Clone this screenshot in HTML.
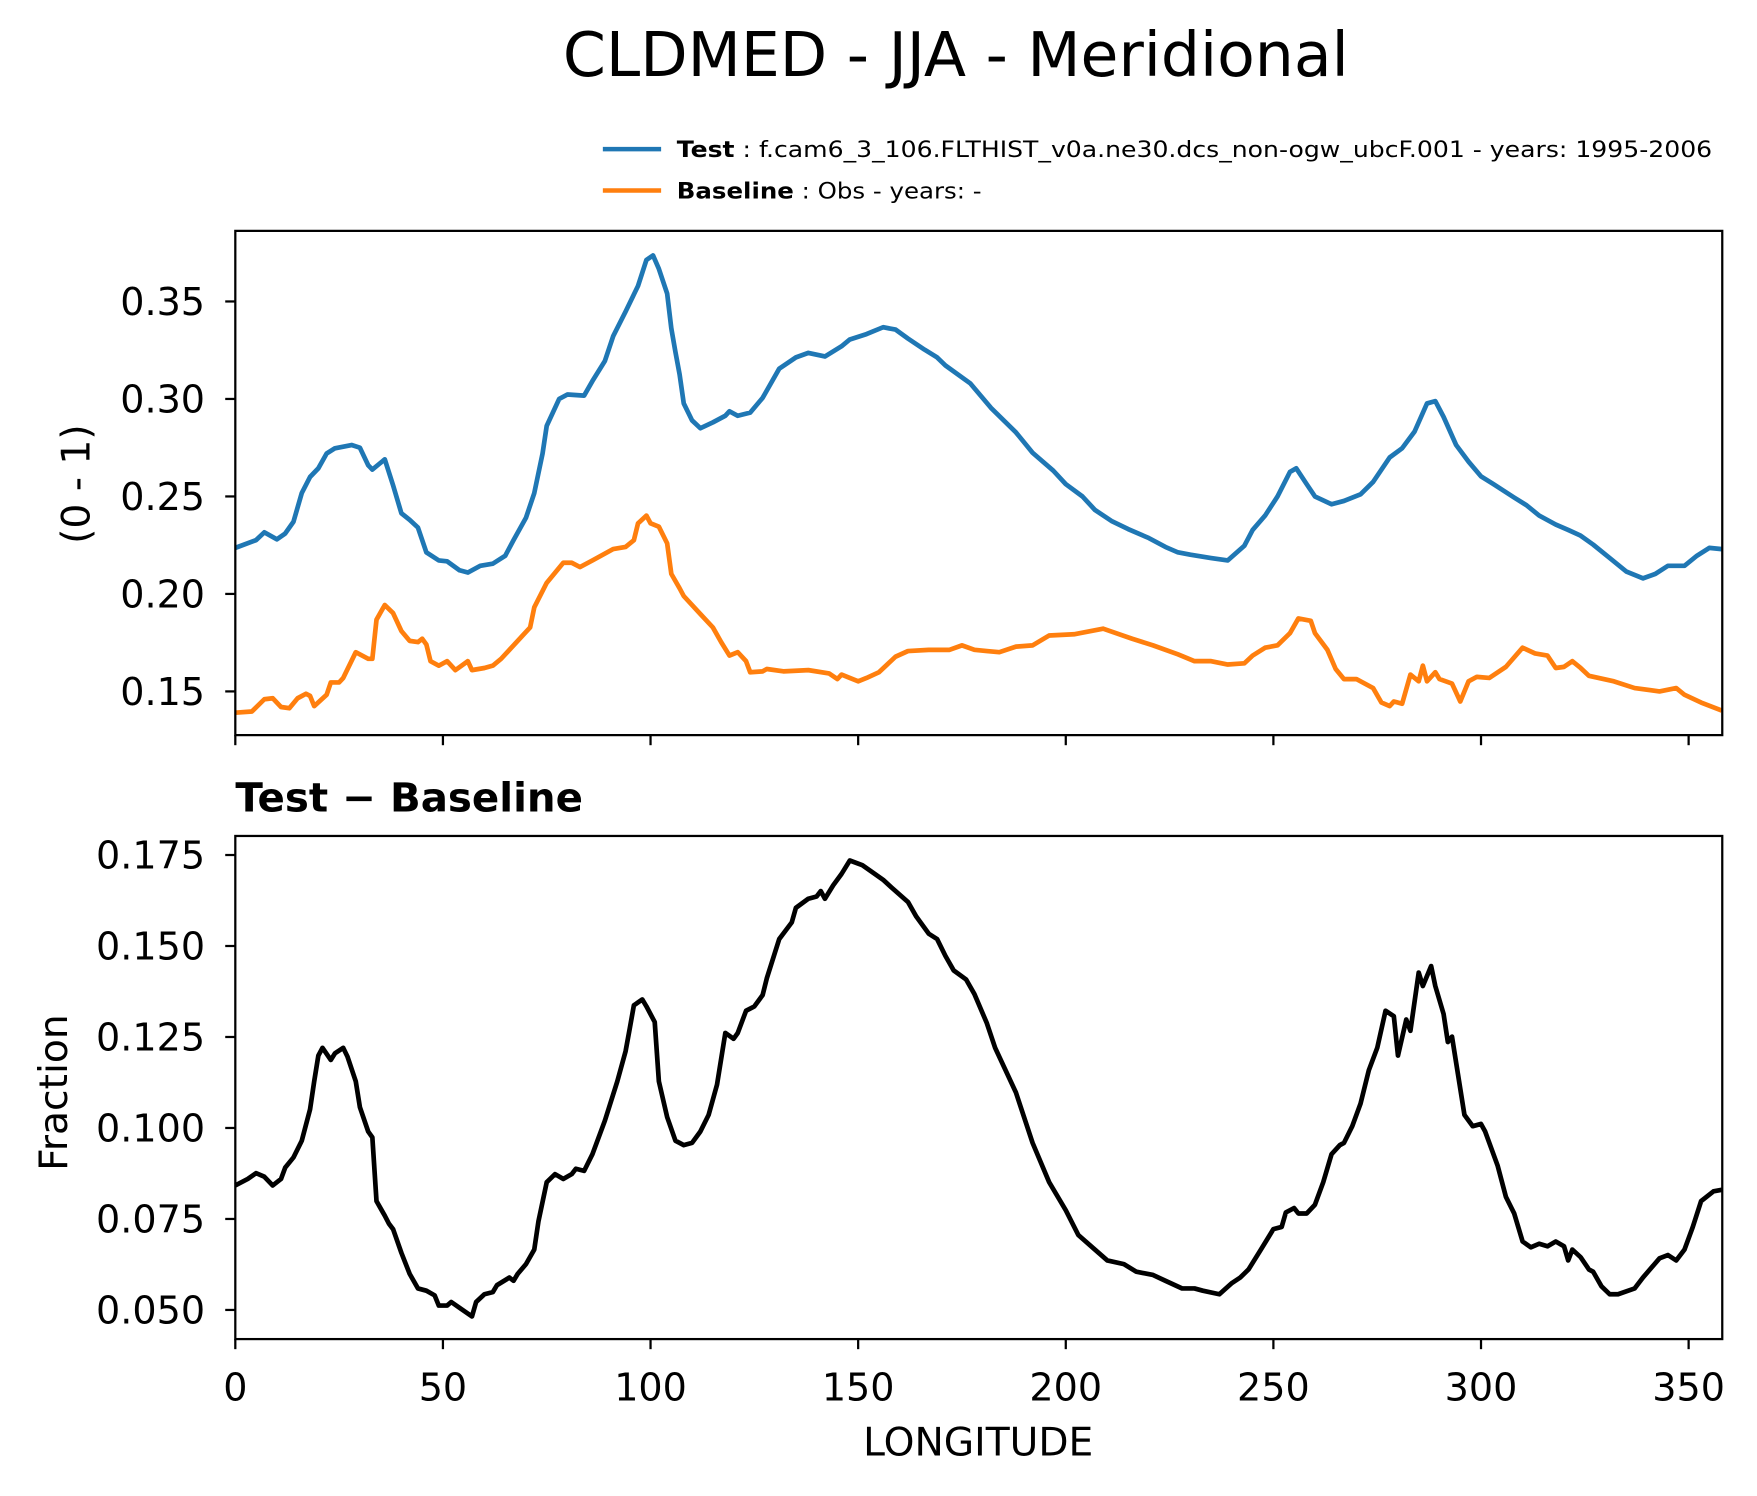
<!DOCTYPE html>
<html><head><meta charset="utf-8"><style>
html,body{margin:0;padding:0;background:#fff}
svg{display:block}
text{font-family:"DejaVu Sans","Liberation Sans",sans-serif;fill:#000}
</style></head><body>
<svg id="chart" width="1757" height="1496" viewBox="0 0 1568 1335" xmlns="http://www.w3.org/2000/svg">
<text x="853" y="68" font-size="55" text-anchor="middle">CLDMED - JJA - Meridional</text>
<g>
<line x1="538" y1="133" x2="590" y2="133" stroke="#1f77b4" stroke-width="4"/>
<text x="604" y="140" font-size="20" textLength="924" lengthAdjust="spacingAndGlyphs"><tspan font-weight="bold">Test</tspan> : f.cam6_3_106.FLTHIST_v0a.ne30.dcs_non-ogw_ubcF.001 - years: 1995-2006</text>
<line x1="538" y1="170" x2="590" y2="170" stroke="#ff7f0e" stroke-width="4"/>
<text x="604" y="177" font-size="20" textLength="272" lengthAdjust="spacingAndGlyphs"><tspan font-weight="bold">Baseline</tspan> : Obs - years: -</text>
</g>
<g id="top"></g>
<g id="bot"></g>
<text x="210" y="724" font-size="36" font-weight="bold">Test − Baseline</text>
<text transform="translate(80,432) rotate(-90)" font-size="35" text-anchor="middle">(0 - 1)</text>
<text transform="translate(60,975) rotate(-90)" font-size="35" text-anchor="middle">Fraction</text>
<text x="873" y="1299" font-size="35" text-anchor="middle">LONGITUDE</text>
</svg>
<script>
const testLon=[0,5,7,10,12,14,16,18,20,22,24,28,30,32,33,36,38,40,42,44,46,49,51,54,56,59,62,65,67,70,72,74,75,78,80,84,86,89,91,94,97,99,100.6,102,104,105,106,107,108,110,112,115,118,119,121,124,127,131,135,138,142,146,148,152,156,159,162,166,169,171,177,182,188,192,197,200,204,207,211,215,220,224,227,230,235,239,243,245,248,251,254,255.5,258,260,264,267,271,274,278,281,284,287,289,291,294,297,300,303,308,311,314,318,321,324,327,331,335,339,342,345,349,352,355,358];
const testVal=[.2236,.2276,.2316,.228,.231,.237,.2517,.260,.2644,.272,.2747,.2764,.275,.266,.2638,.269,.2557,.2414,.238,.234,.2213,.2172,.2167,.2121,.211,.2144,.2155,.2196,.2276,.2391,.2517,.272,.2862,.30,.3023,.3017,.3092,.3195,.3322,.3448,.358,.3713,.3736,.3667,.354,.3362,.324,.3126,.2977,.289,.285,.288,.2914,.2937,.2914,.293,.3006,.3155,.3213,.3236,.3218,.327,.3305,.3333,.3368,.3356,.331,.3253,.3213,.3172,.308,.2954,.2828,.2724,.2632,.2563,.25,.2431,.2374,.2333,.2287,.2241,.2213,.2201,.2184,.2172,.2247,.2328,.2402,.25,.2626,.2644,.2563,.25,.246,.2477,.2511,.2574,.27,.2747,.2833,.2977,.2989,.2908,.2764,.2678,.2603,.2563,.2494,.2454,.2402,.2356,.2328,.2299,.2253,.2184,.2115,.208,.2103,.2144,.2144,.2196,.2236,.223];
const baseLon=[0,4,7,9,11,13,15,17,18,19,22,23,25,26,29,32,33,34,36,38,40,42,44,45,46,47,49,51,53,56,57,60,62,64,66,69,71,72,75,79,81,83,86,91,94,96,97,99,100,102,104,105,107,108,112,115,117,119,121,123,124,127,128,132,138,143,145,146,148,150,152,155,159,162,167,172,175,178,181,184,188,192,196,202,209,216,221,227,231,235,239,243,245,248,251,254,256,259,260,263,265,267,270,274,276,278,279,281,283,285,286,287,289,290,293,295,297,299,302,306,310,313,316,318,320,322,324,326,332,337,343,347,349,353,358];
const baseVal=[.1391,.1397,.146,.1465,.142,.1414,.1465,.1488,.1477,.1425,.1483,.1546,.1546,.1569,.1701,.1667,.1667,.1868,.1943,.1902,.181,.1759,.1753,.177,.1741,.1655,.1632,.1655,.1609,.1655,.1609,.162,.1632,.1667,.1713,.1782,.1828,.1931,.2057,.216,.216,.2138,.2172,.223,.2241,.2276,.2362,.2402,.2362,.2345,.2259,.2103,.2029,.1989,.1897,.1828,.1753,.1684,.1701,.1655,.1598,.1603,.1615,.1603,.1609,.1592,.1563,.1586,.1569,.1552,.1569,.1598,.1678,.1707,.1713,.1713,.1736,.1713,.1707,.1701,.173,.1736,.1787,.1793,.1822,.177,.1736,.169,.1655,.1655,.1638,.1644,.1684,.1724,.1736,.1799,.1874,.1862,.1799,.1713,.1615,.1563,.1563,.1517,.1443,.1425,.1448,.1437,.1586,.1552,.1632,.1552,.1598,.1563,.154,.1448,.1552,.1575,.1569,.1626,.1724,.1695,.1684,.162,.1626,.1655,.162,.158,.1552,.1517,.15,.1517,.1483,.1443,.1402];
const diffLon=[0,3,5,7,9,11,12,14,16,18,19,20,21,23,24,26,27,29,30,32,33,34,36,37,38,40,42,44,46,48,49,51,52,54,57,58,60,62,63,66,67,68,70,72,73,75,77,79,81,82,84,86,89,92,94,95,96,98,99,101,102,104,106,108,110,112,114,116,118,120,121,123,125,127,128,131,134,135,138,140,141,142,144,146,148,151,154,156,158,162,164,167,169,171,173,176,178,181,183,188,192,196,200,203,207,210,214,217,221,224,228,231,233,237,240,242,244,247,250,252,253,255,256,258,260,262,264,266,267,269,271,273,275,277,279,280,282,283,285,286,288,289,291,292,293,296,298,300,301,304,306,308,310,312,314,316,318,320,321,322,324,326,327,329,331,333,337,339,343,345,347,349,351,353,356,358];
const diffVal=[.0842,.086,.0876,.0866,.0842,.086,.0891,.0919,.0965,.1051,.1128,.1199,.122,.1187,.1205,.122,.1196,.1128,.1057,.099,.0974,.0799,.0759,.0737,.0722,.0657,.0599,.0559,.0553,.054,.0512,.0512,.0522,.0506,.0482,.0522,.0543,.0549,.0568,.0589,.058,.0599,.0626,.0666,.0743,.0851,.0873,.086,.0873,.0888,.0882,.0928,.102,.1128,.1211,.1273,.1337,.1353,.1334,.1291,.1128,.103,.0965,.0953,.0959,.099,.1036,.1119,.1261,.1245,.1261,.1322,.1334,.1365,.1411,.1519,.1565,.1605,.163,.1636,.1651,.163,.1667,.1698,.1735,.1722,.1698,.1682,.1661,.1621,.1581,.1534,.1519,.1473,.1433,.1408,.1368,.1288,.122,.1097,.0959,.0851,.0774,.0706,.0666,.0636,.0626,.0605,.0596,.058,.0559,.0559,.0553,.0543,.0574,.0589,.0611,.0666,.0722,.0728,.0768,.078,.0765,.0765,.0789,.0851,.0928,.0953,.0959,.1005,.1067,.1159,.122,.1322,.1307,.1199,.1298,.1267,.1427,.139,.1445,.139,.1313,.1236,.1251,.1036,.1005,.1011,.099,.0897,.0811,.0765,.0688,.0672,.0682,.0675,.0688,.0675,.0636,.0666,.0645,.0611,.0605,.0565,.0543,.0543,.0559,.0589,.0642,.0651,.0636,.0666,.0728,.0799,.0826,.083];
const xTicks=[0,50,100,150,200,250,300,350];
const topTicks=[0.15,0.20,0.25,0.30,0.35];
const topTickLabels=["0.15","0.20","0.25","0.30","0.35"];
const botTicks=[0.050,0.075,0.100,0.125,0.150,0.175];
const botTickLabels=["0.050","0.075","0.100","0.125","0.150","0.175"];

const NS="http://www.w3.org/2000/svg";
const L=210,R=1537,XMIN=0,XMAX=358.1;
const xs=v=>L+(v-XMIN)/(XMAX-XMIN)*(R-L);
function mk(parent,tag,attrs){const e=document.createElementNS(NS,tag);for(const k in attrs)e.setAttribute(k,attrs[k]);parent.appendChild(e);return e;}
function panel(g,T,B,ymin,ymax,yt,ytl,series,showXLabels,pfx){
  const ys=v=>B-(v-ymin)/(ymax-ymin)*(B-T);
  series.forEach(s=>{
    const d=s.lon.map((v,i)=>(i?'L':'M')+xs(v).toFixed(1)+','+ys(s.val[i]).toFixed(1)).join('');
    const p=mk(g,'path',{d:d,fill:'none',stroke:s.color,'stroke-width':4.2,'stroke-linejoin':'round'});
    
    
  });
  const f=mk(g,'rect',{x:L,y:T,width:R-L,height:B-T,fill:'none',stroke:'#000','stroke-width':2});
  
  
  yt.forEach((v,i)=>{
    const y=ys(v);
    const t=mk(g,'line',{x1:L-9,x2:L,y1:y,y2:y,stroke:'#000','stroke-width':2});
    
    
    const tx=mk(g,'text',{x:L-27,y:y+12,'font-size':34,'text-anchor':'end'});
    tx.textContent=ytl[i];
    
    
  });
  xTicks.forEach(v=>{
    const x=xs(v);
    const t=mk(g,'line',{x1:x,x2:x,y1:B,y2:B+9,stroke:'#000','stroke-width':2});
    
    
    if(showXLabels){
      const tx=mk(g,'text',{x:x,y:B+55,'font-size':34,'text-anchor':'middle'});
      tx.textContent=String(v);
      
      
    }
  });
}
const topT=206,topB=656;
const topMin=0.15-(topB-617)/1740,topMax=0.35+(269-topT)/1740;
panel(document.getElementById('top'),topT,topB,topMin,topMax,topTicks,topTickLabels,
 [{lon:testLon,val:testVal,color:'#1f77b4',name:'test-line'},{lon:baseLon,val:baseVal,color:'#ff7f0e',name:'baseline-line'}],false,'top');
const botT=746,botB=1195;
const botMin=0.05-(botB-1169)/3248,botMax=0.175+(763-botT)/3248;
panel(document.getElementById('bot'),botT,botB,botMin,botMax,botTicks,botTickLabels,
 [{lon:diffLon,val:diffVal,color:'#000',name:'difference-line'}],true,'bottom');
</script>
</body></html>
